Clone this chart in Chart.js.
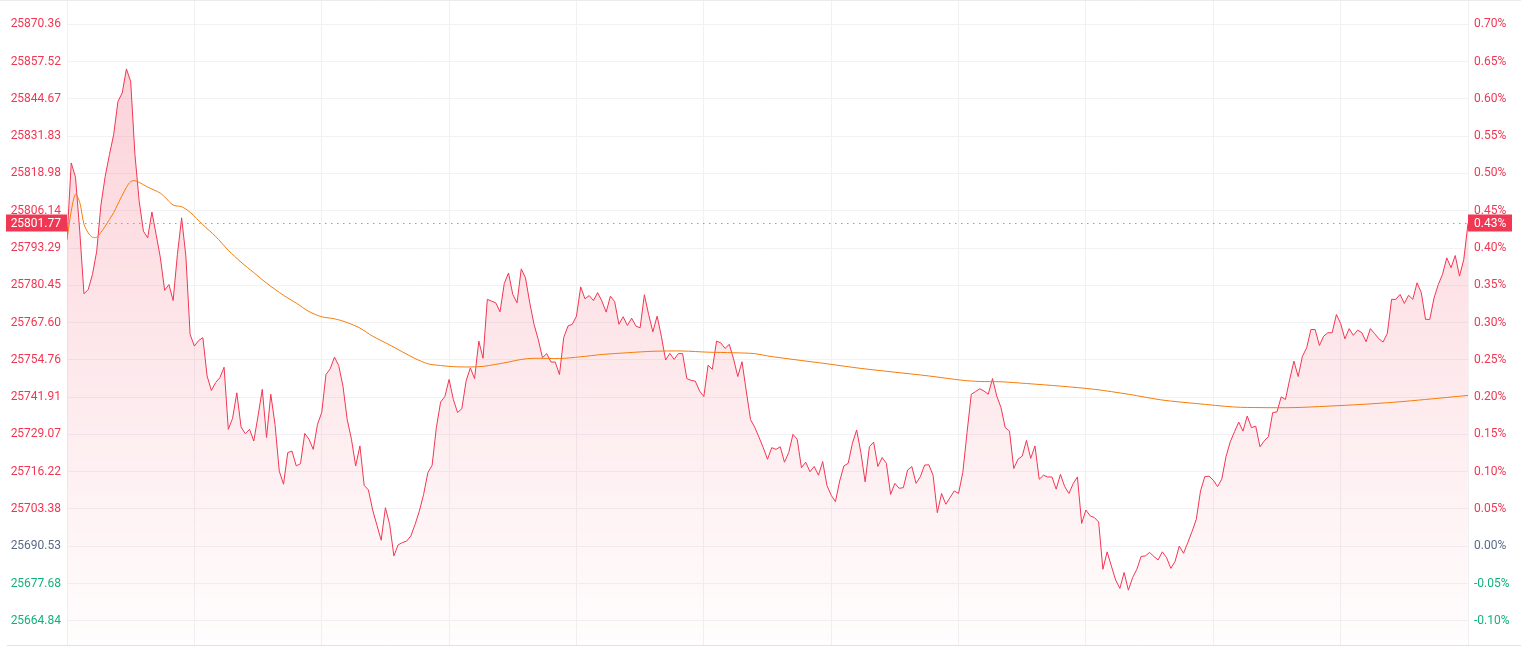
<!DOCTYPE html>
<html>
<head>
<meta charset="utf-8">
<script src="https://cdn.jsdelivr.net/npm/chart.js@4"></script>
<style>
  html, body { margin: 0; padding: 0; background: #fff; }
  #wrap { width: 1521px; height: 647px; position: relative; }
</style>
</head>
<body>
<div id="wrap"><canvas id="chart"></canvas></div>
<script>
// previous close (0.00% line)
const prevClose = 25690.53;

// minute prices, one per minute of the trading day (0..330)
const prices = [
  25796.2, 25822.6, 25817.7, 25799.1, 25777.5, 25779.0, 25784.2, 25792.2, 25808.2, 25818.0,
  25825.5, 25832.4, 25843.8, 25846.7, 25855.0, 25850.7, 25825.5, 25809.4, 25799.1, 25796.8,
  25805.7, 25797.9, 25789.9, 25778.7, 25780.7, 25775.2, 25791.0, 25803.7, 25790.5, 25763.5,
  25759.5, 25761.4, 25762.4, 25749.2, 25744.2, 25746.9, 25748.6, 25752.2, 25730.8, 25734.6,
  25743.4, 25731.6, 25729.3, 25730.8, 25726.8, 25735.4, 25744.6, 25728.0, 25742.9, 25732.5,
  25716.4, 25711.9, 25722.8, 25723.3, 25718.2, 25719.0, 25729.4, 25727.4, 25723.9, 25732.5,
  25736.6, 25749.7, 25751.7, 25755.7, 25752.8, 25745.7, 25734.2, 25727.4, 25718.2, 25725.1,
  25711.5, 25709.9, 25703.0, 25697.8, 25692.6, 25703.8, 25698.1, 25687.2, 25691.0, 25691.8,
  25692.3, 25694.1, 25698.1, 25702.7, 25708.4, 25715.9, 25718.4, 25731.4, 25740.2, 25742.1,
  25748.0, 25741.1, 25736.6, 25737.9, 25747.4, 25752.0, 25748.3, 25761.2, 25755.3, 25775.6,
  25775.0, 25774.4, 25771.3, 25781.1, 25784.7, 25777.3, 25774.4, 25786.1, 25783.0, 25774.4,
  25767.0, 25761.8, 25755.5, 25756.9, 25754.0, 25754.0, 25749.7, 25762.4, 25766.4, 25767.0,
  25769.8, 25779.9, 25775.8, 25776.9, 25775.2, 25777.9, 25775.0, 25771.2, 25776.7, 25774.8,
  25767.0, 25769.6, 25766.6, 25769.1, 25766.4, 25765.8, 25777.2, 25770.4, 25764.4, 25769.8,
  25762.9, 25754.7, 25757.0, 25754.9, 25756.9, 25756.9, 25748.3, 25747.7, 25747.4, 25744.0,
  25742.1, 25752.9, 25751.5, 25761.2, 25760.6, 25758.7, 25760.1, 25755.1, 25749.0, 25754.1,
  25744.0, 25734.2, 25731.5, 25728.1, 25724.5, 25720.5, 25724.5, 25723.9, 25724.8, 25719.5,
  25722.8, 25729.1, 25727.4, 25717.6, 25719.5, 25716.2, 25718.0, 25715.0, 25719.7, 25711.5,
  25708.1, 25705.9, 25713.0, 25718.2, 25719.1, 25726.0, 25730.6, 25722.8, 25712.7, 25724.8,
  25726.4, 25718.0, 25721.1, 25719.1, 25708.4, 25712.2, 25710.5, 25710.7, 25716.8, 25718.0,
  25712.2, 25714.5, 25718.5, 25718.6, 25715.0, 25702.1, 25708.7, 25705.0, 25707.3, 25709.6,
  25708.7, 25715.9, 25729.7, 25742.9, 25743.8, 25744.8, 25744.0, 25742.9, 25748.3, 25742.3,
  25738.3, 25731.4, 25730.2, 25717.3, 25720.5, 25721.6, 25727.0, 25720.8, 25725.1, 25713.6,
  25715.0, 25714.4, 25714.4, 25710.2, 25715.3, 25711.1, 25708.7, 25712.1, 25714.4, 25698.4,
  25703.0, 25701.0, 25700.4, 25698.9, 25682.6, 25688.6, 25683.7, 25678.9, 25676.0, 25681.5,
  25675.4, 25679.7, 25682.6, 25687.0, 25687.2, 25688.4, 25687.0, 25685.8, 25688.6, 25686.6,
  25682.9, 25685.3, 25690.6, 25688.1, 25691.8, 25695.6, 25699.8, 25709.6, 25714.5, 25714.7,
  25713.3, 25711.1, 25713.6, 25721.4, 25726.5, 25730.0, 25733.3, 25730.2, 25735.4, 25731.4,
  25731.9, 25724.8, 25726.8, 25728.3, 25736.6, 25736.8, 25742.0, 25741.1, 25748.0, 25754.3,
  25749.0, 25756.0, 25758.9, 25765.2, 25765.2, 25759.7, 25762.9, 25764.1, 25764.1, 25770.4,
  25767.3, 25762.0, 25765.5, 25763.2, 25765.0, 25764.1, 25761.0, 25765.5, 25763.8, 25762.0,
  25760.9, 25763.9, 25775.6, 25775.6, 25777.3, 25774.2, 25777.0, 25775.6, 25781.3, 25777.9,
  25768.7, 25768.7, 25776.1, 25780.7, 25784.2, 25789.9, 25786.5, 25790.7, 25783.6, 25789.3,
  25801.77
];

// average price line, read at these minutes
const avgMinutes = [0, 1, 2, 3, 4, 5, 6, 7, 8, 9, 11, 12, 14, 15, 16, 17, 19, 22, 23, 25,
  27, 29, 32, 35, 38, 41, 44, 47, 51, 54, 57, 60, 63, 66, 69, 72, 76, 79, 82, 85,
  88, 91, 95, 98, 101, 104, 107, 110, 116, 121, 126, 132, 138, 145, 151, 157, 162, 165, 171, 179,
  187, 195, 203, 211, 215, 220, 226, 234, 242, 250, 258, 266, 275, 281, 289, 297, 305, 313, 320, 330];
const avgPrices = [25796.2, 25806.0, 25811.8, 25809.0, 25801.5, 25798.5, 25797.0, 25797.0, 25798.7, 25800.8,
  25805.5, 25808.5, 25814.2, 25816.2, 25816.5, 25815.9, 25814.3, 25812.2, 25810.9, 25808.1,
  25807.5, 25805.6, 25801.3, 25797.3, 25792.5, 25788.4, 25784.8, 25781.2, 25777.0, 25774.3,
  25771.4, 25769.6, 25768.9, 25767.6, 25765.7, 25762.9, 25759.9, 25757.5, 25755.2, 25753.4,
  25752.8, 25752.4, 25752.3, 25752.5, 25753.2, 25754.0, 25754.9, 25755.3, 25755.2, 25755.8,
  25756.6, 25757.2, 25757.7, 25757.8, 25757.4, 25757.2, 25756.9, 25756.1, 25754.9, 25753.4,
  25751.8, 25750.5, 25749.2, 25747.7, 25747.3, 25747.2, 25746.6, 25745.7, 25744.6, 25742.9,
  25740.9, 25739.7, 25738.5, 25738.3, 25738.3, 25738.8, 25739.4, 25740.2, 25741.1, 25742.5];

// axis tick values (left, price) and labels (right, change)
const priceTicks = [25870.36, 25857.52, 25844.67, 25831.83, 25818.98, 25806.14, 25793.29, 25780.45,
  25767.60, 25754.76, 25741.91, 25729.07, 25716.22, 25703.38, 25690.53, 25677.68, 25664.84];
const pctLabels = ['0.70%', '0.65%', '0.60%', '0.55%', '0.50%', '0.45%', '0.40%', '0.35%',
  '0.30%', '0.25%', '0.20%', '0.15%', '0.10%', '0.05%', '0.00%', '-0.05%', '-0.10%'];
// grid every 30 minutes
const timeTicks = [0, 30, 60, 90, 120, 150, 180, 210, 240, 270, 300, 330];

const RED = 'rgb(242,54,82)';
const GREEN = 'rgb(20,176,124)';
const FLAT = 'rgb(90,106,133)';

function tickColor(v) {
  if (Math.abs(v - prevClose) < 0.01) return FLAT;
  return v > prevClose ? RED : GREEN;
}

// y axes: no extra room for the end labels, chart fills the height
function fitY(width) {
  return s => {
    s.width = width;
    s.paddingTop = 0;
    s.paddingBottom = 0;
  };
}

// last price label boxes and dotted line
const lastPricePlugin = {
  id: 'lastPrice',
  afterDraw(chart) {
    const ctx = chart.ctx;
    const area = chart.chartArea;
    const last = prices[prices.length - 1];
    const y = Math.round(chart.scales.y.getPixelForValue(last)) + 0.5;
    ctx.save();
    // frame lines top and bottom
    ctx.strokeStyle = '#ececef';
    ctx.lineWidth = 1;
    ctx.beginPath();
    ctx.moveTo(0, 0.5);
    ctx.lineTo(chart.width, 0.5);
    ctx.stroke();
    ctx.strokeStyle = '#e2e2e6';
    ctx.beginPath();
    ctx.moveTo(7, Math.round(area.bottom) + 0.5);
    ctx.lineTo(chart.width, Math.round(area.bottom) + 0.5);
    ctx.stroke();

    ctx.strokeStyle = 'rgba(235,90,115,0.8)';
    ctx.setLineDash([1.5, 4.5]);
    ctx.beginPath();
    ctx.moveTo(area.left, y);
    ctx.lineTo(area.right, y);
    ctx.stroke();
    ctx.setLineDash([]);

    ctx.fillStyle = 'rgb(240,56,84)';
    ctx.fillRect(6, y - 9, area.left - 6, 17);
    ctx.fillRect(area.right, y - 9, 44, 17);
    ctx.fillStyle = '#fff';
    ctx.font = '12px Roboto';
    ctx.textBaseline = 'middle';
    ctx.textAlign = 'right';
    ctx.fillText(last.toFixed(2), area.left - 6, y);
    ctx.textAlign = 'left';
    const pct = (last - prevClose) / prevClose * 100;
    ctx.fillText(pct.toFixed(2) + '%', area.right + 6, y);
    ctx.restore();
  }
};

const ctx = document.getElementById('chart').getContext('2d');

const myChart = new Chart(ctx, {
  type: 'line',
  data: {
    datasets: [{
      label: 'avg',
      data: avgMinutes.map((m, i) => ({ x: m, y: avgPrices[i] })),
      borderColor: 'rgb(245,124,10)',
      borderWidth: 1,
      pointRadius: 0,
      tension: 0.3,
      fill: false
    }, {
      label: 'price',
      data: prices.map((p, i) => ({ x: i, y: p })),
      borderColor: RED,
      borderWidth: 1,
      pointRadius: 0,
      tension: 0,
      fill: 'start',
      backgroundColor: function (c) {
        const area = c.chart.chartArea;
        if (!area) return 'rgba(242,54,82,0.1)';
        const g = c.chart.ctx.createLinearGradient(0, area.top, 0, area.bottom);
        g.addColorStop(0, 'rgba(240,60,90,0.25)');
        g.addColorStop(1, 'rgba(240,60,90,0.01)');
        return g;
      }
    }]
  },
  options: {
    responsive: true,
    maintainAspectRatio: false,
    animation: false,
    layout: { padding: { top: 1, bottom: 2, left: 0, right: 0 } },
    plugins: {
      legend: { display: false },
      tooltip: { enabled: false }
    },
    scales: {
      x: {
        type: 'linear',
        min: 0,
        max: 330,
        afterBuildTicks: s => { s.ticks = timeTicks.map(v => ({ value: v })); },
        afterFit: s => { s.height = 0; s.paddingLeft = 0; s.paddingRight = 0; },
        ticks: { display: false },
        grid: { color: '#f1f1f4', drawTicks: false },
        border: { display: false }
      },
      y: {
        position: 'left',
        min: 25656.5,
        max: 25878.4,
        afterBuildTicks: s => { s.ticks = priceTicks.map(v => ({ value: v })); },
        afterFit: fitY(67),
        ticks: {
          padding: 6,
          font: { family: 'Roboto', size: 12 },
          color: c => tickColor(c.tick.value),
          callback: v => v.toFixed(2)
        },
        grid: { color: '#f2f2f5', drawTicks: false },
        border: { display: false }
      },
      y2: {
        position: 'right',
        min: 25656.5,
        max: 25878.4,
        afterBuildTicks: s => { s.ticks = priceTicks.map(v => ({ value: v })); },
        afterFit: fitY(53),
        ticks: {
          padding: 6,
          font: { family: 'Roboto', size: 12 },
          color: c => tickColor(c.tick.value),
          callback: (v, i) => pctLabels[i]
        },
        grid: { display: false, drawTicks: false },
        border: { color: '#f1f1f4' }
      }
    }
  },
  plugins: [lastPricePlugin]
});
</script>
</body>
</html>
